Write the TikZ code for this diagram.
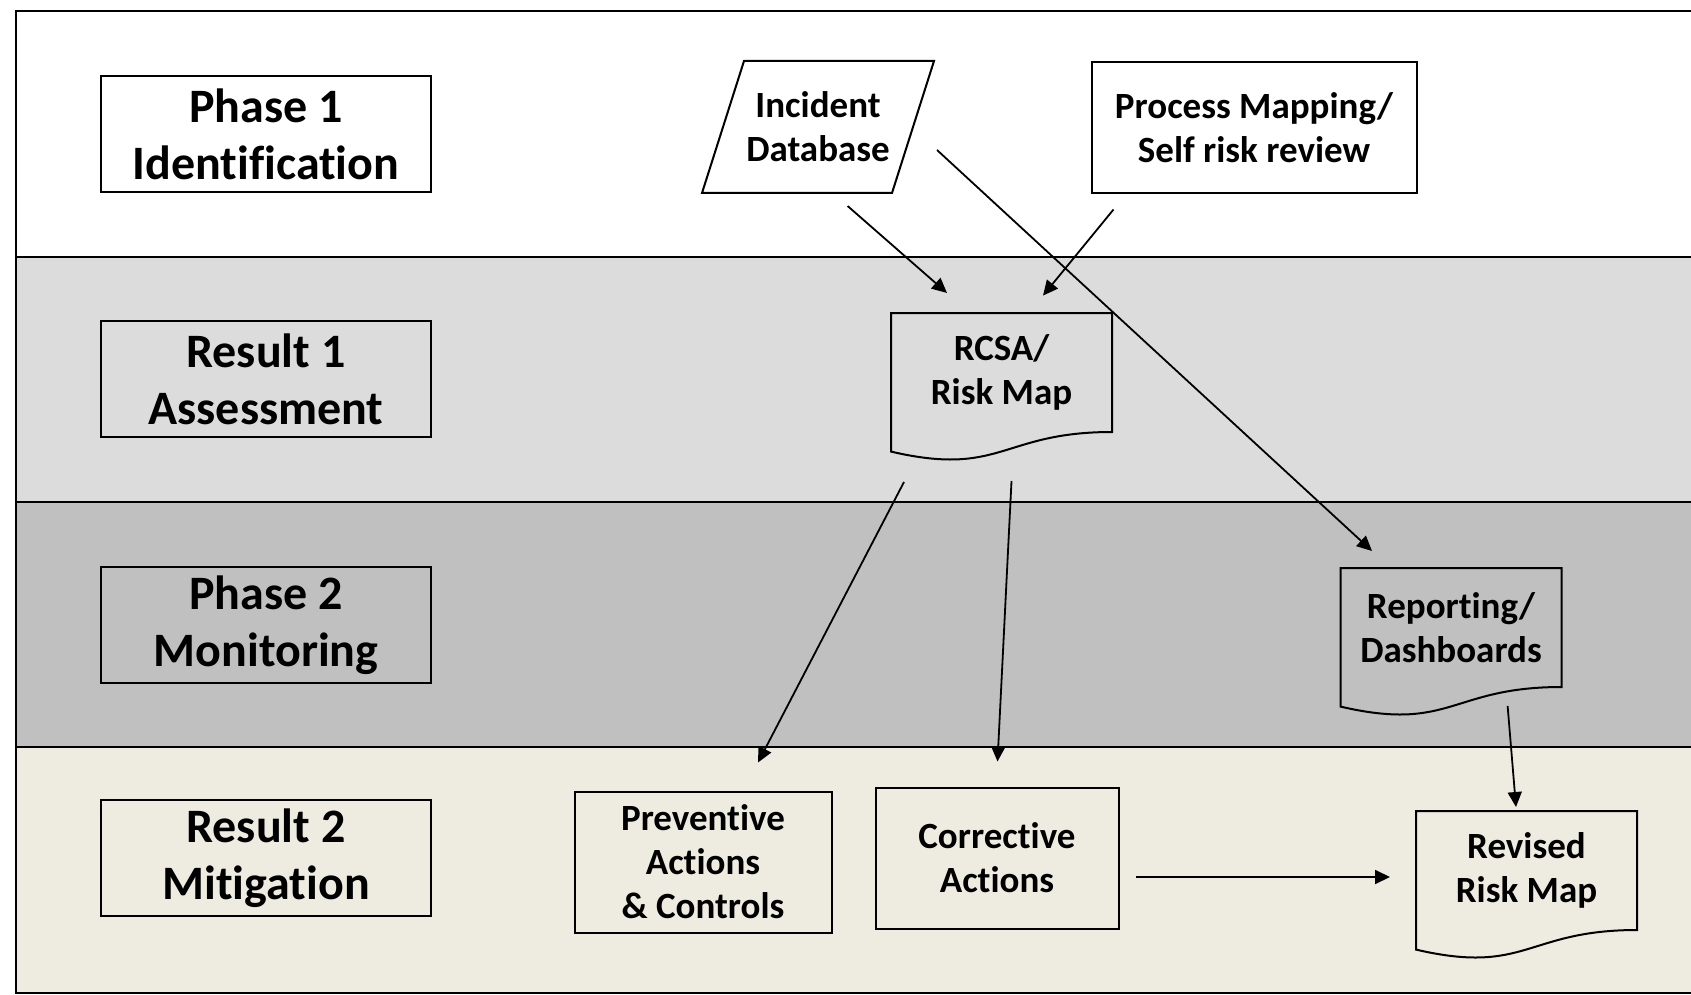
\documentclass[tikz,border=0pt]{standalone}
\usepackage{fontspec}
\setmainfont{Carlito}[Ligatures=NoCommon]
\usetikzlibrary{arrows.meta,calc}

\definecolor{bandA}{HTML}{FFFFFF}
\definecolor{bandB}{HTML}{DCDCDC}
\definecolor{bandC}{HTML}{C0C0C0}
\definecolor{bandD}{HTML}{EEECE1}

\begin{document}
\begin{tikzpicture}[x=1pt,y=-1pt,
    stagebox/.style={draw, line width=2pt, minimum width=330pt, minimum height=116pt,
      align=center, inner sep=0pt, font=\fontsize{48}{57}\selectfont\bfseries},
    flowbox/.style={draw, line width=2pt, align=center, inner sep=0pt,
      font=\fontsize{37}{44}\selectfont\bfseries},
    docbox/.style={flowbox, draw=none, minimum width=219pt, minimum height=117pt},
    link/.style={-{Triangle[length=15pt,width=14pt]}, line width=1.8pt}]

    \clip (0,0) rectangle (1691,995);

    % Swim lanes
    \fill[bandA] (16,11) rectangle (1700,257);
    \fill[bandB] (16,257) rectangle (1700,502);
    \fill[bandC] (16,502) rectangle (1700,747);
    \fill[bandD] (16,747) rectangle (1700,993);
    \draw[line width=2.2pt] (16,257) -- (1700,257);
    \draw[line width=2.2pt] (16,502) -- (1700,502);
    \draw[line width=2.2pt] (16,747) -- (1700,747);
    \draw[line width=2.2pt] (16,11) rectangle (1700,993);

    % Lane titles
    \node[stagebox] (p1) at (266,134) {Phase 1\\Identification};
    \node[stagebox] (r1) at (266,379) {Result 1\\Assessment};
    \node[stagebox] (p2) at (266,625) {Phase 2\\Monitoring};
    \node[stagebox] (r2) at (266,858) {Result 2\\Mitigation};

    % Inputs
    \node[flowbox, draw=none, minimum width=188pt, minimum height=130pt] (inc) at (818,127) {Incident\\Database};
    \draw[line width=2pt] ([xshift=-21pt]inc.south west) -- ([xshift=-21pt]inc.south east)
      -- ([xshift=21pt]inc.north east) -- ([xshift=21pt]inc.north west) -- cycle;
    \node[flowbox, minimum width=325pt, minimum height=131pt] (proc) at (1254,128) {Process Mapping/\\Self risk review};

    % Documents
    \node[docbox] (rcsa) at (1001.5,372.5) {RCSA/\\Risk Map};
    \node[docbox] (report) at (1451,627.5) {Reporting/\\Dashboards};
    \node[docbox] (revised) at (1526.5,870.5) {Revised\\Risk Map};
    \foreach \docname in {rcsa,report,revised}
      \draw[line width=2pt] (\docname.north west) -- (\docname.north east) -- (\docname.south east)
        .. controls (\docname.south) and ($(\docname.north)!1.381!(\docname.south)$)
        .. ($(\docname.north west)!1.1646!(\docname.south west)$) -- cycle;

    % Actions
    \node[flowbox, minimum width=257pt, minimum height=141pt] (prev) at (703,862) {Preventive\\Actions\\\& Controls};
    \node[flowbox, minimum width=243pt, minimum height=141pt] (corr) at (997,858) {Corrective\\Actions};

    % Links
    \draw[link] ([shift={(29.6,13)}]inc.south) -- ([shift={(-54.5,-20)}]rcsa.north);
    \draw[link] ([shift={(-140.5,15)}]proc.south) -- ([shift={(41.5,-17.4)}]rcsa.north);
    \draw[link] ([shift={(24,23)}]inc.east) -- ([shift={(-79,-17)}]report.north);
    \draw[link] ([shift={(-97.5,50)}]rcsa.south) -- ([shift={(55,-28)}]prev.north);
    \draw[link] ([shift={(10,49)}]rcsa.south) -- ([shift={(0.5,-25)}]corr.north);
    \draw[link] ([shift={(56.6,19)}]report.south) -- ([shift={(-10.5,-4)}]revised.north);
    \draw[link] ([shift={(16.5,19)}]corr.east) -- ([shift={(-26,6.5)}]revised.west);
\end{tikzpicture}
\end{document}
